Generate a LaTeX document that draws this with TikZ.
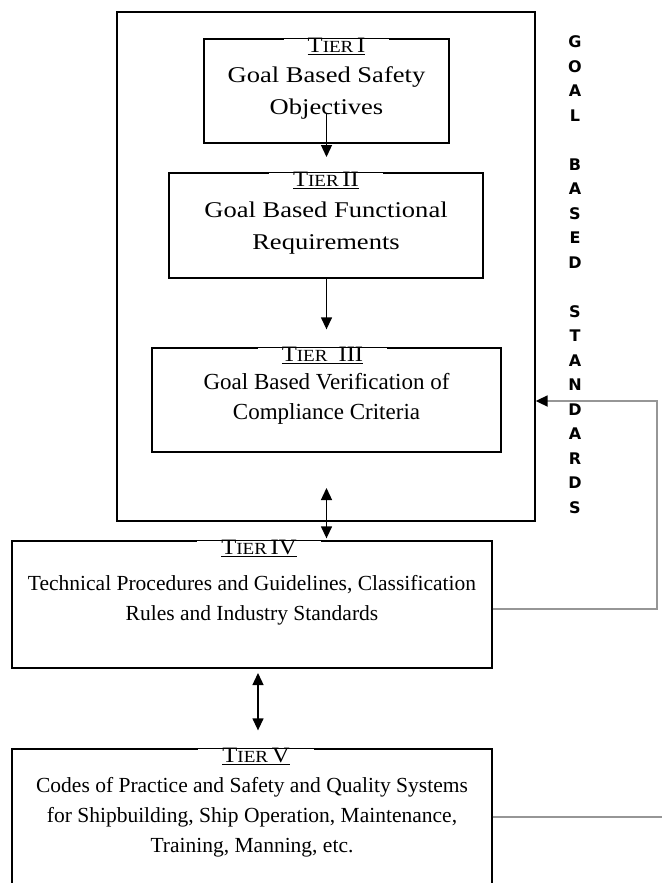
\documentclass[tikz,border=0pt]{standalone}
\usepackage{fontspec}
\setmainfont{Liberation Serif}
\newfontfamily\wideSerif[FakeStretch=1.18]{Liberation Serif}
\newfontfamily\titleSerif[FakeStretch=1.12]{Liberation Serif}
\newfontfamily\lettersFont{DejaVu Sans}
\usetikzlibrary{positioning,arrows.meta}
\definecolor{feedbackColor}{RGB}{150,150,150}
\tikzstyle{diagram} = [x = 1pt, y = -1pt]
\tikzstyle{tierBox} = [draw=black, line width=1.3pt, inner sep=0pt]
\tikzstyle{tierTitle} = [fill=white, inner xsep=24pt, inner ysep=0pt, anchor=north, font=\titleSerif\fontsize{22}{24}\selectfont]
\tikzstyle{tierText} = [align=center, anchor=north, font=\fontsize{21.5}{30}\selectfont, inner sep=0pt]
\tikzstyle{tierTextWide} = [tierText, font=\wideSerif\fontsize{22.5}{32}\selectfont]
\tikzstyle{tierTextMid} = [tierText, font=\fontsize{23}{30}\selectfont]
\tikzstyle{linkArrow} = [line width=1.3pt, -{Triangle[length=12pt,width=11pt]}]
\tikzstyle{linkBoth} = [line width=1.3pt, {Triangle[length=12pt,width=11pt]}-{Triangle[length=12pt,width=11pt]}]
\tikzstyle{feedbackLine} = [color=feedbackColor, line width=1.8pt]
\newcommand{\tierName}[1]{\underline{T{\fontsize{17}{17}\selectfont IER}\,#1}}
\begin{document}
\begin{tikzpicture}[diagram]
  \useasboundingbox (0,0) rectangle (662,883);
  \clip (0,0) rectangle (662,883);

  % goal based standards frame
  \node[tierBox, minimum width=418pt, minimum height=509pt] (outer) at (326,266.5) {};
  \node (gbsLetters) [font=\lettersFont\bfseries\fontsize{16}{24.5}\selectfont, align=center, inner sep=0pt] at (575,274.5)
    {G\\O\\A\\L\\[24.5pt]B\\A\\S\\E\\D\\[24.5pt]S\\T\\A\\N\\D\\A\\R\\D\\S};

  % tiers
  \node[tierBox, minimum width=245pt, minimum height=104pt] (t1) at (326.5,91) {};
  \node[tierTitle, xshift=10pt] (t1Title) at (t1.north) {\tierName{I}};
  \node[tierTextWide, below=28pt of t1.north] (t1Text) {Goal Based Safety\\Objectives};

  \node[tierBox, minimum width=314pt, minimum height=105pt] (t2) at (326,225.5) {};
  \node[tierTitle] (t2Title) at (t2.north) {\tierName{II}};
  \node[tierTextWide, below=29pt of t2.north] (t2Text) {Goal Based Functional\\Requirements};

  \node[tierBox, minimum width=349pt, minimum height=104pt] (t3) at (326.5,400) {};
  \node[tierTitle, xshift=-4pt] (t3Title) at (t3.north) {\tierName{\,\,III}};
  \node[tierTextMid, below=26pt of t3.north] (t3Text) {Goal Based Verification of\\Compliance Criteria};

  \node[tierBox, minimum width=480pt, minimum height=127pt] (t4) at (252,604.5) {};
  \node[tierTitle, xshift=7pt] (t4Title) at (t4.north) {\tierName{IV}};
  \node[tierText, below=35pt of t4.north] (t4Text) {Technical Procedures and Guidelines, Classification\\Rules and Industry Standards};

  \node[tierBox, minimum width=480pt, minimum height=151pt] (t5) at (252,824.5) {};
  \node[tierTitle, xshift=4pt] (t5Title) at (t5.north) {\tierName{V}};
  \node[tierText, below=29pt of t5.north] (t5Text) {Codes of Practice and Safety and Quality Systems\\for Shipbuilding, Ship Operation, Maintenance,\\Training, Manning, etc.};

  % links between tiers
  \coordinate (a1Start) at (326.5,113);
  \coordinate (a1End) at (326.5,157);
  \draw[linkArrow] (a1Start) -- (a1End);
  \draw[linkArrow, shorten >=18pt] (t2.south -| 326.5,0) -- (t3.north -| 326.5,0);
  \coordinate (a3Top) at (326.5,488);
  \draw[linkBoth, shorten >=2pt] (a3Top) -- (t4.north -| a3Top);
  \coordinate (a4Top) at (258,673);
  \draw[linkBoth, shorten >=18pt] (a4Top) -- (t5.north -| a4Top);

  % feedback lines
  \coordinate (fbTurn) at (657,401);
  \draw[feedbackLine, -{Triangle[length=12pt,width=11pt,color=black]}] ([yshift=-4.5pt]t4.east) -| (fbTurn) -- (outer.east |- fbTurn);
  \coordinate (fbEnd) at (662,817);
  \draw[feedbackLine] ([yshift=7.5pt]t5.east) -- (fbEnd);
\end{tikzpicture}
\end{document}
